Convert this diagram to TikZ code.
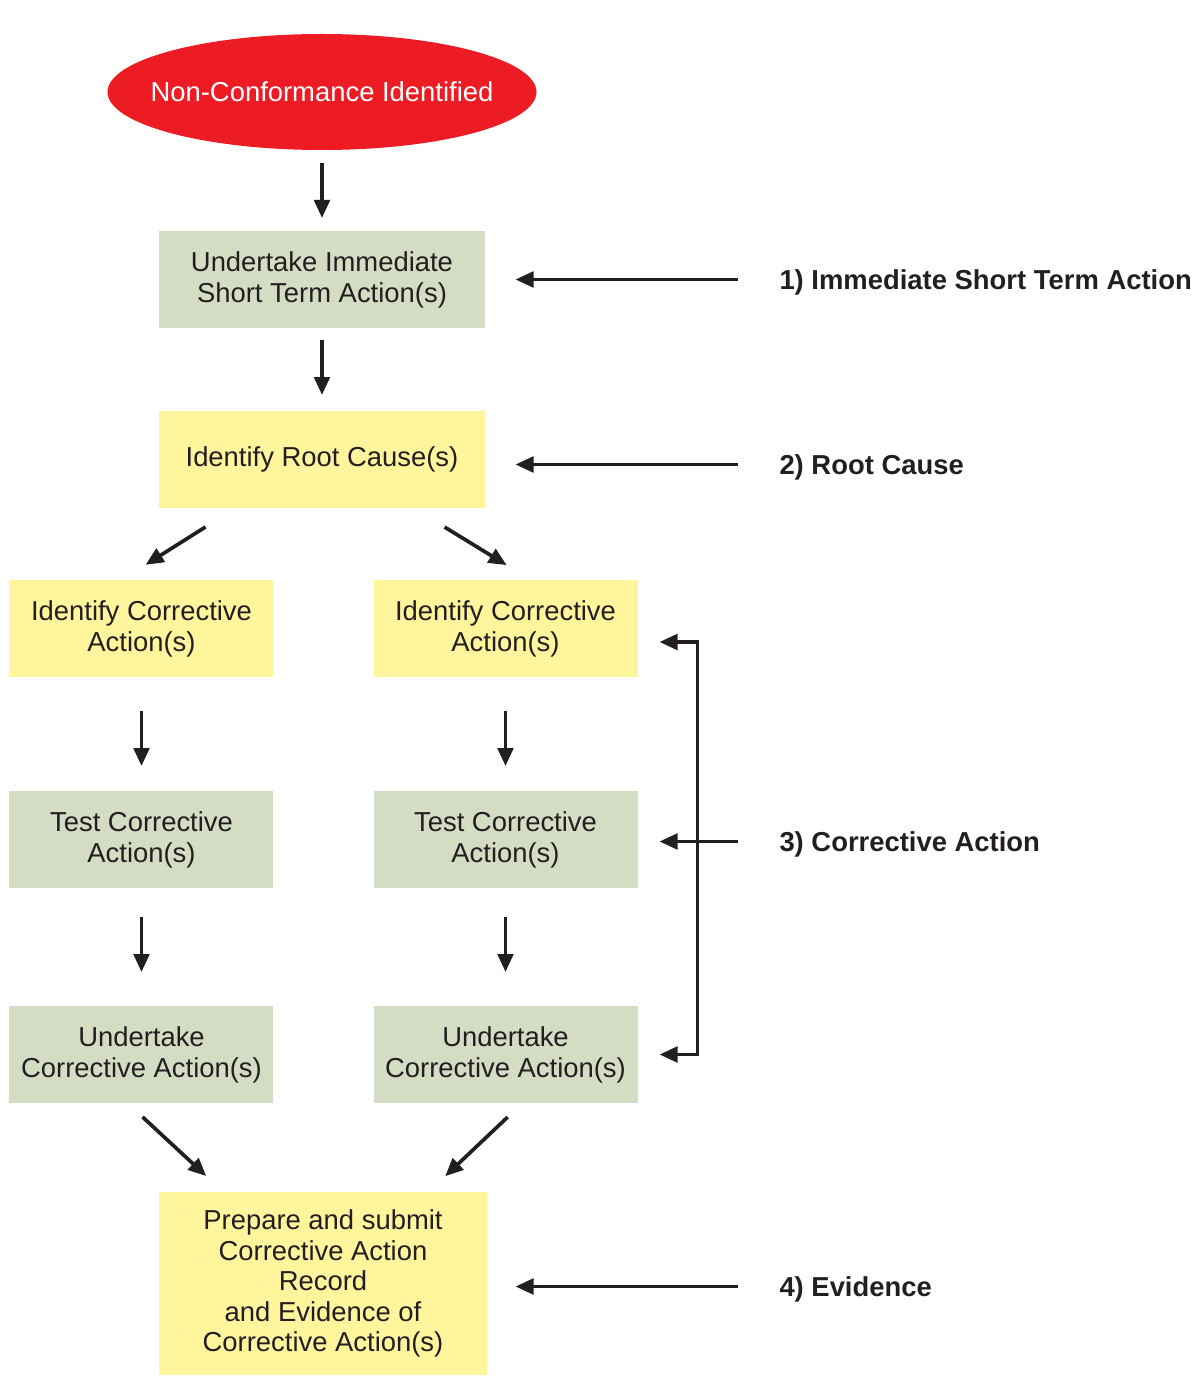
\documentclass[tikz,border=0pt]{standalone}
\usepackage{fontspec}
\setmainfont{Liberation Sans}
\usepackage{xcolor}
\usetikzlibrary{shapes,arrows,positioning,calc,arrows.meta}

\definecolor{ncred}{HTML}{ED1C24}
\definecolor{boxgreen}{HTML}{D4DDC3}
\definecolor{boxyellow}{HTML}{FFF59D}
\definecolor{inkgray}{HTML}{231F20}

\tikzset{
  flow/.style={draw=inkgray, line width=2.1pt, -{Triangle[length=0.36cm,width=0.31cm]}},
  greenbox/.style={rectangle, fill=boxgreen, minimum width=6.5cm, minimum height=1.94cm, align=center, text=inkgray, inner sep=0pt},
  yellowbox/.style={rectangle, fill=boxyellow, minimum width=6.5cm, minimum height=1.94cm, align=center, text=inkgray, inner sep=0pt},
  stagelabel/.style={inner sep=0pt, text depth=0pt, font=\fontsize{15.6}{17.6}\selectfont\bfseries, text=inkgray, anchor=west},
}

\begin{document}
\begin{tikzpicture}[font=\fontsize{15.6}{17.6}\selectfont, outer sep=0pt]
    \useasboundingbox (-6.44,1.84) rectangle (17.52,-26.02);

    \node [ellipse, fill=ncred, text=white, minimum width=8.58cm, minimum height=2.32cm, inner xsep=-0.45cm, inner ysep=0pt] (nc) {Non-Conformance Identified};
    \node [greenbox, below=1.62cm of nc] (shortact) {Undertake Immediate\\Short Term Action(s)};
    \node [yellowbox, below=1.66cm of shortact] (rootcause) {Identify Root Cause(s)};

    \node [yellowbox, minimum width=5.28cm, below=1.44cm of rootcause, xshift=-3.61cm] (idleft) {Identify Corrective\\Action(s)};
    \node [yellowbox, minimum width=5.28cm, below=1.44cm of rootcause, xshift=3.67cm] (idright) {Identify Corrective\\Action(s)};
    \node [greenbox, minimum width=5.28cm, below=2.28cm of idleft] (testleft) {Test Corrective\\Action(s)};
    \node [greenbox, minimum width=5.28cm, below=2.28cm of idright] (testright) {Test Corrective\\Action(s)};
    \node [greenbox, minimum width=5.28cm, below=2.36cm of testleft] (doleft) {Undertake\\Corrective Action(s)};
    \node [greenbox, minimum width=5.28cm, below=2.36cm of testright] (doright) {Undertake\\Corrective Action(s)};

    \node [yellowbox, minimum width=6.54cm, minimum height=3.66cm, below=1.78cm of doleft, xshift=3.63cm, font=\fontsize{15.6}{17.4}\selectfont] (evidence) {Prepare and submit\\Corrective Action\\Record\\and Evidence of\\Corrective Action(s)};

    \node [stagelabel, right=5.9cm of shortact] (lblshort) {1) Immediate Short Term Action};
    \node [stagelabel, right=5.9cm of rootcause, yshift=-0.1cm] (lblroot) {2) Root Cause};
    \node [stagelabel, right=2.84cm of testright, yshift=-0.04cm] (lblcorr) {3) Corrective Action};
    \node [stagelabel, right=5.86cm of evidence, yshift=-0.06cm] (lblevid) {4) Evidence};

    % main flow
    \draw [flow, shorten <=0.26cm, shorten >=0.26cm] (nc) -- (shortact);
    \draw [flow, shorten <=0.24cm, shorten >=0.32cm] (shortact) -- (rootcause);
    \draw [flow, shorten <=0.71cm, shorten >=0.57cm] ([xshift=1.52cm]rootcause.south west) -- ([xshift=-0.4cm]idleft.north);
    \draw [flow, shorten <=0.73cm, shorten >=0.57cm] ([xshift=-1.42cm]rootcause.south east) -- ([xshift=0.51cm]idright.north);
    \draw [flow, shorten <=0.68cm, shorten >=0.5cm] (idleft) -- (testleft);
    \draw [flow, shorten <=0.68cm, shorten >=0.5cm] (idright) -- (testright);
    \draw [flow, shorten <=0.58cm, shorten >=0.68cm] (testleft) -- (doleft);
    \draw [flow, shorten <=0.58cm, shorten >=0.68cm] (testright) -- (doright);
    \draw [flow, shorten <=0.41cm, shorten >=0.47cm] ([xshift=-0.28cm]doleft.south) -- ([xshift=1.28cm]evidence.north west);
    \draw [flow, shorten <=0.41cm, shorten >=0.46cm] ([xshift=0.34cm]doright.south) -- ([xshift=-1.16cm]evidence.north east);

    % stage pointers
    \draw [flow, shorten <=0.84cm, shorten >=0.62cm] (lblshort.west) -- (lblshort.west -| shortact.east);
    \draw [flow, shorten <=0.84cm, shorten >=0.62cm] (lblroot.west) -- (lblroot.west -| rootcause.east);
    \draw [flow, shorten <=0.84cm, shorten >=0.58cm] (lblevid.west) -- (lblevid.west -| evidence.east);

    % corrective action bracket
    \coordinate (brtop) at ([xshift=1.2cm, yshift=-0.27cm]idright.east);
    \coordinate (brbot) at ([xshift=1.2cm]doright.east);
    \draw [flow, {Triangle[length=0.36cm,width=0.31cm]}-{Triangle[length=0.36cm,width=0.31cm]}, shorten <=0.44cm, shorten >=0.44cm] (brtop -| idright.east) -- (brtop) -- (brbot) -- (doright.east);
    \draw [flow, shorten <=0.84cm, shorten >=0.44cm] (lblcorr.west) -- (lblcorr.west -| testright.east);
\end{tikzpicture}
\end{document}
